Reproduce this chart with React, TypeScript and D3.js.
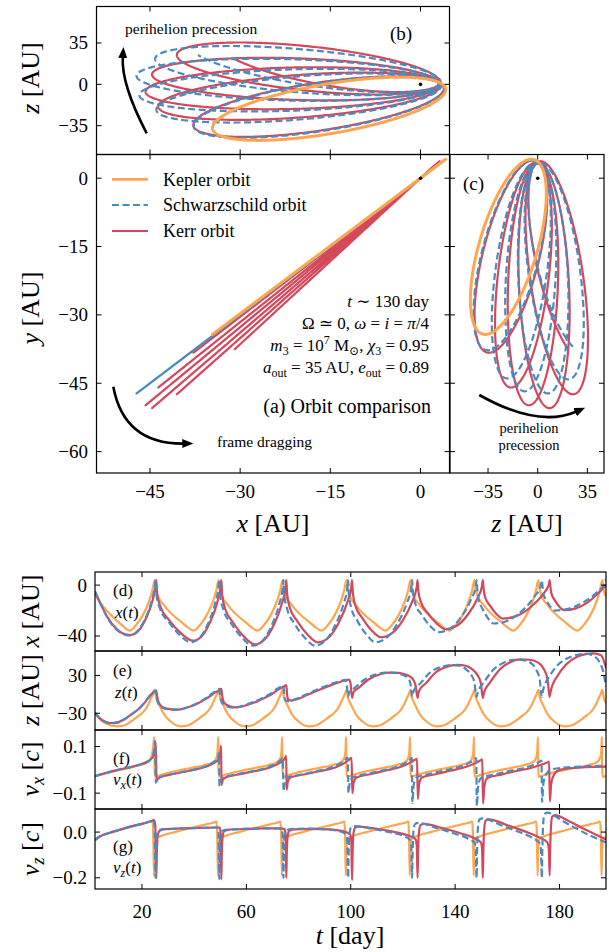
import React from 'react';
import * as d3 from 'd3';

type P2 = [number, number];
type P3 = [number, number, number];

const FONT = "'Liberation Serif', 'DejaVu Serif', serif";
const KEP = '#ffa54f';
const SCH = '#4a8bbe';
const KERR = '#d4485c';
const TWO_PI = 2 * Math.PI;

// ---------- orbit panels (a)-(c): apoapsis of every revolution (x, y, z in AU)
const periDist = 4.5;
const keplerApo: P3[] = [[-32.7, -32.4, -44.5]];
const keplerArc: P2[] = [[0, TWO_PI]];
const schApo: P3[] = [
  [-36.3, -36.3, -41.5],
  [-43.5, -43.5, -24.8],
  [-46.7, -46.7, -10.5],
  [-47.2, -47.2, 8.2],
  [-43.7, -43.7, 24.9],
  [-37.3, -37.3, 39.7],
];
const schArc: P2[] = [[0, TWO_PI], [0, TWO_PI], [0, TWO_PI], [0, TWO_PI], [0, TWO_PI], [0, 2.4]];
const kerrApo: P3[] = [
  [-36.4, -36.9, -40.6],
  [-43.3, -45.6, -21.6],
  [-45.7, -49.8, -7.1],
  [-44.6, -50.4, 9.5],
  [-40.0, -46.8, 28.7],
  [-32.6, -39.6, 41.5],
];
const kerrArc: P2[] = [[0, TWO_PI], [0, TWO_PI], [0, TWO_PI], [0, TWO_PI], [0, TWO_PI], [0, 2.2]];

const xTicksA = [-45, -30, -15, 0];
const yTicksA = [0, -15, -30, -45, -60];
const zTicksB = [35, 0, -35];
const zTicksC = [-35, 0, 35];

// ---------- time series (d)-(g): [t day, value]
const tTicks = [20, 60, 100, 140, 180];

const keplerX: P2[] = [
  [2, -6.3], [3.4, -12], [5.4, -17.5], [7.9, -23], [10.4, -28], [12.9, -32.5], [15.2, -35.8], [17.9, -31], [20.4, -23.4], [22.9, -11.6], [24, -4],
  [24.9, 4], [25.3, -3], [26.8, -11.6], [28.4, -15.5], [29.9, -19.5], [32.4, -24.5], [34.9, -28.7], [37.4, -33], [39.7, -35.8], [42.4, -31], [44.9, -23.4], [47.4, -11.6], [48.5, -4],
  [49.4, 4], [49.8, -3], [51.3, -11.6], [52.9, -15.5], [54.4, -19.5], [56.9, -24.5], [59.4, -28.7], [61.9, -33], [64.2, -35.8], [66.9, -31], [69.4, -23.4], [71.9, -11.6], [73, -4],
  [73.9, 4], [74.3, -3], [75.8, -11.6], [77.4, -15.5], [78.9, -19.5], [81.4, -24.5], [83.9, -28.7], [86.4, -33], [88.7, -35.8], [91.4, -31], [93.9, -23.4], [96.4, -11.6], [97.5, -4],
  [98.4, 4], [98.8, -3], [100.3, -11.6], [101.9, -15.5], [103.4, -19.5], [105.9, -24.5], [108.4, -28.7], [110.9, -33], [113.2, -35.8], [115.9, -31], [118.4, -23.4], [120.9, -11.6], [122, -4],
  [122.9, 4], [123.3, -3], [124.8, -11.6], [126.4, -15.5], [127.9, -19.5], [130.4, -24.5], [132.9, -28.7], [135.4, -33], [137.7, -35.8], [140.4, -31], [142.9, -23.4], [145.4, -11.6], [146.5, -4],
  [147.4, 4], [147.8, -3], [149.3, -11.6], [150.9, -15.5], [152.4, -19.5], [154.9, -24.5], [157.4, -28.7], [159.9, -33], [162.2, -35.8], [164.9, -31], [167.4, -23.4], [169.9, -11.6], [171, -4],
  [171.9, 4], [172.3, -3], [173.8, -11.6], [175.4, -15.5], [176.9, -19.5], [179.4, -24.5], [181.9, -28.7], [184.4, -33], [186.7, -35.8], [189.4, -31], [191.9, -23.4], [194.4, -11.6], [195.5, -4],
  [196.4, 4], [196.8, -3], [197.8, -9],
];
const kerrX: P2[] = [
  [2, -5], [4, -14], [7, -26], [10, -34], [12.5, -37.8], [15.5, -39.3], [18.5, -36.3], [21.5, -26.3], [24, -12.5], [25.2, -1.2],
  [25.5, 4], [25.8, -6.5], [27.2, -17.5], [30.4, -27.5], [35, -38], [39.5, -43.7], [42.8, -40.4], [46, -29.4], [48.8, -14.1], [50.1, -1.7],
  [50.4, 4], [50.7, -7.1], [51.9, -18.8], [54.9, -29.4], [59.1, -40.5], [63.2, -46.6], [66.8, -43.1], [70.5, -31.4], [73.5, -15.2], [75, -2.1],
  [75.3, 4], [75.6, -6.8], [76.7, -18], [79.5, -28.3], [83.5, -39.1], [87.3, -45], [91.3, -41.6], [95.2, -30.3], [98.5, -14.6], [100.2, -1.9],
  [100.5, 4], [100.8, -5.9], [101.8, -16.3], [104.4, -25.7], [108, -35.6], [111.5, -41], [115.7, -37.9], [120, -27.5], [123.5, -13.1], [125.3, -1.4],
  [125.6, 4], [125.9, -4.5], [126.9, -13.4], [129.3, -21.5], [132.9, -30.1], [136.3, -34.7], [140.6, -32], [144.9, -23.1], [148.5, -10.7], [150.3, -0.6],
  [150.6, 4], [150.9, -2.7], [151.5, -9.6], [153.3, -16], [155.8, -22.7], [158.2, -26.3], [163.6, -24.2], [169, -17.2], [173.5, -7.5], [175.9, 0.4],
  [176.2, 4], [176.5, -1.2], [176.9, -6.7], [178.1, -11.6], [179.9, -16.9], [181.7, -19.7], [186, -18.5], [190.5, -14], [194.5, -7], [197.8, 0],
];
const schX: P2[] = [
  [2, -5], [4, -14.2], [7, -26.5], [10, -34.5], [12.5, -38.2], [15.1, -39.6], [18.1, -36.5], [21.2, -26.5], [23.7, -12.6], [24.9, -1.2],
  [25.2, 4], [25.5, -6.8], [26.8, -18], [30, -28.3], [34.4, -39.1], [38.8, -45], [42, -41.6], [45.3, -30.3], [48, -14.6], [49.3, -1.9],
  [49.6, 4], [49.9, -7.4], [51.2, -19.2], [54.2, -30.1], [58.4, -41.4], [62.6, -47.6], [66.1, -44], [69.6, -32.1], [72.5, -15.6], [73.9, -2.2],
  [74.2, 4], [74.5, -7.4], [75.7, -19.2], [78.4, -30.1], [82.4, -41.4], [86.3, -47.6], [90.1, -44], [93.9, -32.1], [97.1, -15.6], [98.7, -2.2],
  [99, 4], [99.3, -6.8], [100.2, -18], [102.6, -28.3], [106.1, -39.1], [109.4, -45], [113.6, -41.6], [117.9, -30.3], [121.4, -14.6], [123.2, -1.9],
  [123.5, 4], [123.8, -5], [124.7, -14.5], [127.1, -23.1], [130.4, -32.1], [133.7, -37], [138.1, -34.1], [142.4, -24.7], [146, -11.6], [147.9, -0.9],
  [148.2, 4], [148.5, -3.5], [149, -11.4], [150.5, -18.6], [152.6, -26.1], [154.7, -30.2], [160.3, -27.8], [165.8, -19.9], [170.4, -9], [172.9, -0.1],
  [173.2, 4], [173.5, -1.3], [173.8, -6.8], [174.9, -11.8], [176.5, -17.1], [178, -20], [183.9, -18.3], [189.7, -12.8], [194.6, -5.1], [197.2, 1.1], [197.8, 4.5],
];

const keplerZ: P2[] = [
  [2, -29.5], [4, -40], [6.5, -47], [10.4, -50.8], [13.4, -49], [16.8, -40], [18.9, -33.5], [20.7, -27], [22.2, -18], [23.3, -8], [24.2, 0],
  [24.9, 7], [25.4, -4], [26.6, -16], [28.5, -32], [31.1, -43.5], [34.9, -50.8], [37.9, -49], [41.3, -40], [43.4, -33.5], [45.2, -27], [46.7, -18], [47.8, -8], [48.7, 0],
  [49.4, 7], [49.9, -4], [51.1, -16], [53, -32], [55.6, -43.5], [59.4, -50.8], [62.4, -49], [65.8, -40], [67.9, -33.5], [69.7, -27], [71.2, -18], [72.3, -8], [73.2, 0],
  [73.9, 7], [74.4, -4], [75.6, -16], [77.5, -32], [80.1, -43.5], [83.9, -50.8], [86.9, -49], [90.3, -40], [92.4, -33.5], [94.2, -27], [95.7, -18], [96.8, -8], [97.7, 0],
  [98.4, 7], [98.9, -4], [100.1, -16], [102, -32], [104.6, -43.5], [108.4, -50.8], [111.4, -49], [114.8, -40], [116.9, -33.5], [118.7, -27], [120.2, -18], [121.3, -8], [122.2, 0],
  [122.9, 7], [123.4, -4], [124.6, -16], [126.5, -32], [129.1, -43.5], [132.9, -50.8], [135.9, -49], [139.3, -40], [141.4, -33.5], [143.2, -27], [144.7, -18], [145.8, -8], [146.7, 0],
  [147.4, 7], [147.9, -4], [149.1, -16], [151, -32], [153.6, -43.5], [157.4, -50.8], [160.4, -49], [163.8, -40], [165.9, -33.5], [167.7, -27], [169.2, -18], [170.3, -8], [171.2, 0],
  [171.9, 7], [172.4, -4], [173.6, -16], [175.5, -32], [178.1, -43.5], [181.9, -50.8], [184.9, -49], [188.3, -40], [190.4, -33.5], [192.2, -27], [193.7, -18], [194.8, -8], [195.7, 0],
  [196.4, 7], [196.9, -4], [197.8, -14],
];
const kerrZ: P2[] = [
  [2, -29.5], [4, -38.5], [6, -43.5], [8, -45.5], [10.5, -44.5], [13, -40], [15.8, -32.2], [18.5, -24], [20.9, -13.6], [22.8, -4], [24.1, 2.4], [25.5, 6],
  [25.8, -3], [26.5, -13.6], [28, -20.5], [30.5, -23.5], [33.7, -24.2], [36.5, -22], [38.8, -18.9], [41.5, -14], [44, -8.3], [46, -3], [47.8, 2.4], [49.5, 6], [50.4, 8.7],
  [50.7, -1], [51.2, -11], [52.5, -17], [55.5, -20.5], [58, -19.5], [60.6, -16.3], [64, -11.5], [67, -5.6], [70, 1], [72.2, 7.7], [74.3, 12.5], [75.3, 14.6],
  [75.6, 0], [76, -8.3], [77.3, -9.8], [79.5, -7.5], [83.7, -0.3], [87.5, 6.5], [91.4, 13], [95, 18.5], [97.8, 22], [99.3, 23.6], [99.9, 18], [100.5, -5.6],
  [101, 3], [103, 10.3], [106.8, 23.6], [111.9, 32.7], [115, 34.5], [118.3, 34.3], [121, 31.5], [122.8, 28], [124, 23], [124.9, 13], [125.6, -5.6],
  [126, 3], [127, 11], [128.6, 17], [132.4, 34.3], [137.6, 44.9], [141, 47], [144, 45.5], [146.5, 40], [148.5, 31], [149.8, 19], [150.6, -5.6],
  [151, 2], [151.8, 10], [153.2, 18], [157, 39], [161.5, 52], [165, 55.5], [168.5, 55], [172, 50], [174, 40], [175.4, 24], [176.2, -4],
  [176.6, 5], [177.5, 17], [178.7, 26], [182.4, 47], [186.9, 60], [190, 64], [193, 65], [195.9, 62], [197.8, 42],
];
const schZ: P2[] = [
  [2, -29.5], [4, -38.5], [6, -43.8], [8, -46], [10.5, -45], [13, -40.5], [15.8, -32.5], [18.5, -24], [20.9, -13.6], [22.6, -4], [23.9, 2.4], [25.2, 6],
  [25.5, -3], [26.2, -14], [27.7, -21], [30.2, -24], [33.4, -24.5], [36.2, -22.3], [38.5, -19], [41.2, -14], [43.6, -8.3], [45.5, -3], [47.2, 2.4], [48.8, 6], [49.6, 8.7],
  [49.9, -1], [50.4, -11], [51.7, -17.5], [54.7, -21], [57.2, -20], [59.8, -16.5], [63.2, -11.5], [66.2, -5.6], [69.2, 1], [71.4, 7.7], [73.3, 12], [74.2, 13.5],
  [74.5, 0], [74.9, -9], [76.2, -11], [78.5, -8], [82.7, -0.5], [86.5, 6.5], [90.3, 13], [93.9, 18.5], [96.7, 22], [98, 23], [98.5, 15], [99, -4],
  [99.4, 3], [101.5, 10.3], [105.3, 23.6], [110.4, 32.7], [113.5, 34.5], [116.8, 34.3], [119.5, 31.5], [121.3, 28], [122.4, 23], [123, 14], [123.5, -4],
  [123.9, 3], [124.9, 11], [126.5, 17], [130.3, 34.3], [135.5, 44.5], [139, 46.5], [142, 45], [144.4, 39], [146.3, 30], [147.4, 19], [148.2, -4],
  [148.6, 2], [149.4, 10], [150.8, 18], [154.6, 39], [159, 51], [162.5, 55], [166, 54.5], [169.3, 49], [171.2, 38], [172.4, 24], [173.2, -4],
  [173.6, 5], [174.5, 17], [175.7, 26], [179.4, 47], [183.9, 59], [187, 63], [190, 64.6], [193, 61], [195.5, 50], [196.8, 35], [197.8, 12],
];

const keplerVx: P2[] = [
  [2, -0.027], [5, -0.018], [10, -0.004], [15, 0.008], [19, 0.02], [21.7, 0.03], [23.1, 0.042], [23.7, 0.06], [24.2, 0.09], [24.7, 0.14],
  [24.82, 0.02], [25, -0.03], [25.7, -0.028], [27.7, -0.02], [32.7, -0.006], [38.7, 0.008], [43.7, 0.02], [46.7, 0.03], [48.1, 0.042], [48.7, 0.058], [49, 0.085], [49.2, 0.14],
  [49.32, 0.02], [49.5, -0.03], [50.2, -0.028], [52.2, -0.02], [57.2, -0.006], [63.2, 0.008], [68.2, 0.02], [71.2, 0.03], [72.6, 0.042], [73.2, 0.058], [73.5, 0.085], [73.7, 0.14],
  [73.82, 0.02], [74, -0.03], [74.7, -0.028], [76.7, -0.02], [81.7, -0.006], [87.7, 0.008], [92.7, 0.02], [95.7, 0.03], [97.1, 0.042], [97.7, 0.058], [98, 0.085], [98.2, 0.14],
  [98.32, 0.02], [98.5, -0.03], [99.2, -0.028], [101.2, -0.02], [106.2, -0.006], [112.2, 0.008], [117.2, 0.02], [120.2, 0.03], [121.6, 0.042], [122.2, 0.058], [122.5, 0.085], [122.7, 0.14],
  [122.82, 0.02], [123, -0.03], [123.7, -0.028], [125.7, -0.02], [130.7, -0.006], [136.7, 0.008], [141.7, 0.02], [144.7, 0.03], [146.1, 0.042], [146.7, 0.058], [147, 0.085], [147.2, 0.14],
  [147.32, 0.02], [147.5, -0.03], [148.2, -0.028], [150.2, -0.02], [155.2, -0.006], [161.2, 0.008], [166.2, 0.02], [169.2, 0.03], [170.6, 0.042], [171.2, 0.058], [171.5, 0.085], [171.7, 0.14],
  [171.82, 0.02], [172, -0.03], [172.7, -0.028], [174.7, -0.02], [179.7, -0.006], [185.7, 0.008], [190.7, 0.02], [193.7, 0.03], [195.1, 0.042], [195.7, 0.058], [196, 0.085], [196.2, 0.14],
  [196.32, 0.02], [196.5, -0.03], [197.8, -0.027],
];
const kerrVx: P2[] = [
  [2, -0.027], [6, -0.014], [10, -0.002], [15, 0.01], [19, 0.022], [22.2, 0.036], [23.8, 0.05], [24.8, 0.07], [25.3, 0.117], [25.6, -0.05], [26, -0.04], [27, -0.032],
  [32, -0.018], [38, -0.004], [44, 0.012], [47.8, 0.031], [49.3, 0.045], [50, 0.07], [50.3, 0.103], [50.5, -0.065], [50.9, -0.045], [52, -0.033],
  [57, -0.02], [63, -0.006], [69, 0.01], [72.8, 0.03], [74.3, 0.042], [75, 0.055], [75.25, 0.06], [75.45, -0.085], [75.9, -0.05], [77, -0.032],
  [82, -0.02], [88, -0.006], [94, 0.01], [98, 0.032], [99.5, 0.045], [100.3, 0.052], [100.6, -0.1], [101.1, -0.055], [102.2, -0.033],
  [107, -0.02], [113, -0.004], [119, 0.012], [123, 0.032], [124.6, 0.043], [125.4, 0.047], [125.7, -0.125], [126.2, -0.06], [127.3, -0.033],
  [132, -0.02], [138, -0.004], [144, 0.012], [148, 0.03], [149.6, 0.04], [150.4, 0.045], [150.7, -0.145], [151.2, -0.07], [152.3, -0.035],
  [157, -0.022], [163, -0.006], [169, 0.008], [173, 0.022], [175, 0.03], [176, 0.035], [176.3, -0.135], [176.8, -0.06], [177.9, -0.02], [180, 0], [185, 0.008], [190, 0.012], [197.8, 0.014],
];
const schVx: P2[] = [
  [2, -0.027], [6, -0.014], [10, -0.002], [15, 0.01], [19, 0.022], [22.2, 0.036], [23.6, 0.05], [24.5, 0.075], [25, 0.124], [25.3, -0.055], [25.7, -0.04], [26.7, -0.032],
  [31.7, -0.018], [37.7, -0.004], [43.7, 0.012], [47.2, 0.031], [48.6, 0.045], [49.3, 0.06], [49.5, 0.074], [49.7, -0.07], [50.1, -0.045], [51.2, -0.033],
  [56, -0.02], [62, -0.006], [68, 0.01], [71.7, 0.03], [73.2, 0.042], [73.9, 0.05], [74.3, -0.092], [74.8, -0.05], [75.9, -0.032],
  [81, -0.02], [87, -0.005], [93, 0.012], [96.8, 0.033], [98.2, 0.046], [98.9, 0.052], [99.1, -0.1], [99.6, -0.055], [100.7, -0.033],
  [106, -0.018], [112, -0.003], [118, 0.014], [121.5, 0.034], [122.9, 0.046], [123.4, 0.052], [123.6, -0.142], [124.1, -0.065], [125.2, -0.033],
  [130, -0.018], [136, -0.002], [142, 0.014], [145.8, 0.032], [147.4, 0.043], [148.1, 0.05], [148.3, -0.156], [148.8, -0.07], [149.9, -0.035],
  [155, -0.02], [161, -0.004], [167, 0.01], [170.5, 0.024], [172.3, 0.034], [173.1, 0.04], [173.3, -0.138], [173.8, -0.06], [174.9, -0.018], [177, 0.002], [182, 0.01], [188, 0.014], [194, 0.017], [197.8, 0.018],
];

const keplerVz: P2[] = [
  [2, -0.035], [4, -0.018], [8, -0.002], [12, 0.012], [16, 0.025], [20, 0.036], [23, 0.044], [24, 0.047], [24.3, 0], [24.6, -0.19],
  [24.8, -0.08], [25.1, -0.04], [25.6, -0.026], [26.6, -0.02], [32.6, 0], [38.6, 0.018], [44.6, 0.034], [47.8, 0.043], [48.5, 0.047], [48.8, 0], [49.1, -0.19],
  [49.3, -0.08], [49.6, -0.04], [50.1, -0.026], [51.1, -0.02], [57.1, 0], [63.1, 0.018], [69.1, 0.034], [72.3, 0.043], [73, 0.047], [73.3, 0], [73.6, -0.19],
  [73.8, -0.08], [74.1, -0.04], [74.6, -0.026], [75.6, -0.02], [81.6, 0], [87.6, 0.018], [93.6, 0.034], [96.8, 0.043], [97.5, 0.047], [97.8, 0], [98.1, -0.19],
  [98.3, -0.08], [98.6, -0.04], [99.1, -0.026], [100.1, -0.02], [106.1, 0], [112.1, 0.018], [118.1, 0.034], [121.3, 0.043], [122, 0.047], [122.3, 0], [122.6, -0.19],
  [122.8, -0.08], [123.1, -0.04], [123.6, -0.026], [124.6, -0.02], [130.6, 0], [136.6, 0.018], [142.6, 0.034], [145.8, 0.043], [146.5, 0.047], [146.8, 0], [147.1, -0.19],
  [147.3, -0.08], [147.6, -0.04], [148.1, -0.026], [149.1, -0.02], [155.1, 0], [161.1, 0.018], [167.1, 0.034], [170.3, 0.043], [171, 0.047], [171.3, 0], [171.6, -0.19],
  [171.8, -0.08], [172.1, -0.04], [172.6, -0.026], [173.6, -0.02], [179.6, 0], [185.6, 0.018], [191.6, 0.034], [194.8, 0.043], [195.5, 0.047], [195.8, 0], [196.1, -0.19],
  [196.3, -0.08], [196.6, -0.04], [197.1, -0.026], [197.8, -0.023],
];
const kerrVz: P2[] = [
  [2, -0.035], [4, -0.018], [8, -0.002], [12, 0.012], [16, 0.025], [20, 0.036], [23, 0.046], [24.6, 0.052], [25.1, 0.03], [25.5, -0.2],
  [25.7, -0.09], [26, -0.02], [26.6, 0.004], [28, 0.012], [35, 0.016], [42, 0.018], [48, 0.02], [49.8, 0.02], [50.1, 0], [50.4, -0.207],
  [50.6, -0.09], [50.9, -0.02], [51.5, 0.004], [53, 0.01], [60, 0.014], [67, 0.016], [73, 0.016], [74.7, 0.012], [75, -0.01], [75.3, -0.2],
  [75.5, -0.09], [75.8, -0.02], [76.4, 0.005], [78, 0.012], [85, 0.014], [92, 0.012], [97, 0.004], [99.8, -0.01], [100.2, -0.04], [100.5, -0.21],
  [100.7, -0.09], [101, -0.01], [101.6, 0.018], [103, 0.024], [110, 0.014], [117, 0], [122, -0.015], [124.8, -0.03], [125.3, -0.06], [125.6, -0.2],
  [125.8, -0.09], [126.1, -0.005], [126.7, 0.03], [128, 0.036], [135, 0.018], [142, -0.005], [147, -0.025], [149.8, -0.044], [150.3, -0.07], [150.6, -0.2],
  [150.8, -0.09], [151.1, 0.01], [151.7, 0.05], [153, 0.056], [160, 0.03], [167, 0.002], [172, -0.022], [175.3, -0.045], [175.9, -0.075], [176.2, -0.19],
  [176.4, -0.08], [176.7, 0.02], [177.2, 0.068], [178.2, 0.074], [184, 0.045], [190, 0.01], [197.8, -0.032],
];
const schVz: P2[] = [
  [2, -0.035], [4, -0.018], [8, -0.002], [12, 0.012], [16, 0.025], [20, 0.036], [23, 0.046], [24.3, 0.052], [24.8, 0.03], [25.2, -0.2],
  [25.4, -0.09], [25.7, -0.02], [26.3, 0.004], [27.7, 0.012], [34.7, 0.016], [41.7, 0.018], [47.7, 0.02], [49, 0.02], [49.3, 0], [49.6, -0.205],
  [49.8, -0.09], [50.1, -0.02], [50.7, 0.004], [52.2, 0.01], [59.2, 0.014], [66.2, 0.016], [72.2, 0.016], [73.6, 0.012], [73.9, -0.01], [74.2, -0.2],
  [74.4, -0.09], [74.7, -0.02], [75.3, 0.006], [76.9, 0.013], [83.9, 0.015], [90.9, 0.012], [95.9, 0.003], [98.3, -0.012], [98.7, -0.045], [99, -0.2],
  [99.2, -0.09], [99.5, -0.01], [100.1, 0.02], [101.5, 0.026], [108.5, 0.014], [115.5, -0.002], [120.5, -0.018], [122.8, -0.035], [123.2, -0.065], [123.5, -0.2],
  [123.7, -0.09], [124, 0], [124.6, 0.035], [125.9, 0.04], [132.9, 0.018], [139.9, -0.007], [144.9, -0.028], [147.5, -0.048], [147.9, -0.075], [148.2, -0.2],
  [148.4, -0.09], [148.7, 0.015], [149.3, 0.055], [150.6, 0.06], [157.6, 0.03], [164.6, 0], [169.6, -0.025], [172.5, -0.05], [172.9, -0.08], [173.2, -0.2],
  [173.4, -0.08], [173.7, 0.03], [174.2, 0.078], [175.2, 0.085], [181, 0.05], [187, 0.012], [193, -0.022], [197.8, -0.045],
];

// ---------- helpers
const minus = (s: string) => s.replace('-', '\u2212');

// one revolution: ellipse with the focus at the origin, through the given apoapsis
function orbitPoints(apos: P3[], arcs: P2[]): P3[] {
  const pts: P3[] = [];
  apos.forEach((a, i) => {
    const h = Math.hypot(a[0], a[1]);
    const qx = -a[0] / h;
    const qy = -a[1] / h;
    const sA = -h;
    const zA = a[2];
    const ra = Math.hypot(sA, zA);
    const ux = sA / ra;
    const uz = zA / ra;
    const pS = -ux * periDist;
    const pZ = -uz * periDist;
    const cS = (sA + pS) / 2;
    const cZ = (zA + pZ) / 2;
    const uS = (pS - sA) / 2;
    const uZ = (pZ - zA) / 2;
    const b = Math.sqrt(periDist * ra);
    const vS = -uz * b;
    const vZ = ux * b;
    const [e0, e1] = arcs[i];
    const n = Math.ceil((e1 - e0) / 0.015);
    for (let k = 0; k <= n; k++) {
      const E = e0 + ((e1 - e0) * k) / n;
      const s = cS + uS * Math.cos(E) + vS * Math.sin(E);
      const z = cZ + uZ * Math.cos(E) + vZ * Math.sin(E);
      pts.push([s * qx, s * qy, z]);
    }
  });
  return pts;
}

function frame(key: string, x0: number, x1: number, y0: number, y1: number, xs: number[], ys: number[]) {
  const L = 5;
  return (
    <g key={key} stroke="#000" fill="none">
      {xs.map((x, i) => (
        <g key={'x' + i}>
          <line x1={x} x2={x} y1={y1} y2={y1 - L} strokeWidth={1} />
          <line x1={x} x2={x} y1={y0} y2={y0 + L} strokeWidth={1} />
        </g>
      ))}
      {ys.map((y, i) => (
        <g key={'y' + i}>
          <line x1={x0} x2={x0 + L} y1={y} y2={y} strokeWidth={1} />
          <line x1={x1} x2={x1 - L} y1={y} y2={y} strokeWidth={1} />
        </g>
      ))}
      <rect x={x0} y={y0} width={x1 - x0} height={y1 - y0} strokeWidth={1.2} />
    </g>
  );
}

const I = ({ children }: { children: React.ReactNode }) => <tspan fontStyle="italic">{children}</tspan>;

export default function App() {
  const xA = d3.scaleLinear().domain([-53.9, 4.83]).range([96.5, 449.5]);
  const yA = d3.scaleLinear().domain([-64.7, 5.2]).range([473, 154.5]);
  const zB = d3.scaleLinear().domain([-59.4, 65.9]).range([154.5, 6.5]);
  const zC = d3.scaleLinear().domain([-61.8, 46.7]).range([450, 604]);
  const tS = d3.scaleLinear().domain([2.0, 197.8]).range([95, 606]);

  const kepPts = orbitPoints(keplerApo, keplerArc);
  const schPts = orbitPoints(schApo, schArc);
  const kerrPts = orbitPoints(kerrApo, kerrArc);

  const lineXZ = d3.line<P3>().x((p) => xA(p[0])).y((p) => zB(p[2]));
  const lineXY = d3.line<P3>().x((p) => xA(p[0])).y((p) => yA(p[1]));
  const lineZY = d3.line<P3>().x((p) => zC(p[2])).y((p) => yA(p[1]));

  const orbitLayer = (gen: d3.Line<P3>, clip: string) => (
    <g clipPath={`url(#${clip})`} fill="none" strokeLinejoin="round">
      <path d={gen(kerrPts) ?? ''} stroke={KERR} strokeWidth={2.2} />
      <path d={gen(schPts) ?? ''} stroke={SCH} strokeWidth={2.2} strokeDasharray="7,3.5" />
      <path d={gen(kepPts) ?? ''} stroke={KEP} strokeWidth={3} />
    </g>
  );

  const series = [
    { key: 'd', y0: 572, y1: 651, dom: [-51.8, 10.3], kep: keplerX, sch: schX, kerr: kerrX, ticks: [0, -40], labels: ['0', '-40'] },
    { key: 'e', y0: 651, y1: 730, dom: [-56.6, 68.9], kep: keplerZ, sch: schZ, kerr: kerrZ, ticks: [30, -30], labels: ['30', '-30'] },
    { key: 'f', y0: 730, y1: 809, dom: [-0.168, 0.171], kep: keplerVx, sch: schVx, kerr: kerrVx, ticks: [0.1, -0.1], labels: ['0.1', '-0.1'] },
    { key: 'g', y0: 809, y1: 889, dom: [-0.249, 0.101], kep: keplerVz, sch: schVz, kerr: kerrVz, ticks: [0, -0.2], labels: ['0.0', '-0.2'] },
  ];

  const arrowHead = 'url(#ah)';
  const TICK = 19;

  return (
    <div style={{ position: 'absolute', left: 0, top: 0 }}>
      <svg width={609} height={952} viewBox="0 0 609 952" style={{ display: 'block', background: '#fff' }} fontFamily={FONT}>
        <defs>
          <clipPath id="cb"><rect x={96.5} y={6.5} width={353} height={148} /></clipPath>
          <clipPath id="ca"><rect x={96.5} y={154.5} width={353} height={318.5} /></clipPath>
          <clipPath id="cc"><rect x={450} y={154.5} width={154} height={318.5} /></clipPath>
          {series.map((s) => (
            <clipPath key={s.key} id={'c' + s.key}><rect x={95} y={s.y0} width={511} height={s.y1 - s.y0} /></clipPath>
          ))}
          <marker id="ah" markerWidth={12} markerHeight={10} refX={1} refY={4.5} orient="auto" markerUnits="userSpaceOnUse">
            <path d="M0,0 L11,4.5 L0,9 Z" fill="#000" />
          </marker>
        </defs>

        {/* panel (b): x-z */}
        {orbitLayer(lineXZ, 'cb')}
        <circle cx={xA(0)} cy={zB(0)} r={1.8} fill="#000" />
        {frame('fb', 96.5, 449.5, 6.5, 154.5, xTicksA.map((v) => xA(v)), zTicksB.map((v) => zB(v)))}
        {zTicksB.map((v) => (
          <text key={'zb' + v} x={88} y={zB(v) + 6.5} textAnchor="end" fontSize={TICK}>{minus(String(v))}</text>
        ))}
        <text transform={`translate(39,78) rotate(-90)`} textAnchor="middle" fontSize={26}>
          <I>z</I>{' [AU]'}
        </text>
        <text x={125} y={34} fontSize={15.5}>perihelion precession</text>
        <text x={390} y={40} fontSize={19}>(b)</text>
        <path d="M146.7,133.3 Q121,84 122.8,57" fill="none" stroke="#000" strokeWidth={2.6} markerEnd={arrowHead} />

        {/* panel (a): x-y */}
        {orbitLayer(lineXY, 'ca')}
        <circle cx={xA(0)} cy={yA(0)} r={1.8} fill="#000" />
        {frame('fa', 96.5, 449.5, 154.5, 473, xTicksA.map((v) => xA(v)), yTicksA.map((v) => yA(v)))}
        {xTicksA.map((v) => (
          <text key={'xa' + v} x={xA(v)} y={498} textAnchor="middle" fontSize={TICK}>{minus(String(v))}</text>
        ))}
        {yTicksA.map((v) => (
          <text key={'ya' + v} x={88} y={yA(v) + 6.5} textAnchor="end" fontSize={TICK}>{minus(String(v))}</text>
        ))}
        <text transform={`translate(39,308) rotate(-90)`} textAnchor="middle" fontSize={26}>
          <I>y</I>{' [AU]'}
        </text>
        <text x={273} y={532} textAnchor="middle" fontSize={26}>
          <I>x</I>{' [AU]'}
        </text>
        {/* legend */}
        <line x1={112} x2={148} y1={179.3} y2={179.3} stroke={KEP} strokeWidth={2.8} />
        <line x1={112} x2={148} y1={205} y2={205} stroke={SCH} strokeWidth={2.2} strokeDasharray="7,3.5" />
        <line x1={112} x2={148} y1={231} y2={231} stroke={KERR} strokeWidth={2.2} />
        <text x={163} y={185.5} fontSize={18}>Kepler orbit</text>
        <text x={163} y={211} fontSize={18}>Schwarzschild orbit</text>
        <text x={163} y={237} fontSize={18}>Kerr orbit</text>
        {/* annotations */}
        <text x={429} y={307} textAnchor="end" fontSize={17}>
          <I>t</I>{' \u223C 130 day'}
        </text>
        <text x={429} y={329} textAnchor="end" fontSize={17}>
          {'\u03A9 \u2243 0,  '}<I>{'\u03C9'}</I>{' = '}<I>i</I>{' = '}<I>{'\u03C0'}</I>{'/4'}
        </text>
        <text x={429} y={351} textAnchor="end" fontSize={17}>
          <I>m</I><tspan fontSize={12} dy={4}>3</tspan><tspan dy={-4}>{' = 10'}</tspan><tspan fontSize={12} dy={-7}>7</tspan>
          <tspan dy={7}>{' M'}</tspan><tspan fontSize={12} dy={4}>{'\u2299'}</tspan><tspan dy={-4}>{',  '}</tspan>
          <I>{'\u03C7'}</I><tspan fontSize={12} dy={4}>3</tspan><tspan dy={-4}>{' = 0.95'}</tspan>
        </text>
        <text x={429} y={373} textAnchor="end" fontSize={17}>
          <I>a</I><tspan fontSize={12} dy={4}>out</tspan><tspan dy={-4}>{' = 35 AU,  '}</tspan>
          <I>e</I><tspan fontSize={12} dy={4}>out</tspan><tspan dy={-4}>{' = 0.89'}</tspan>
        </text>
        <text x={431} y={413} textAnchor="end" fontSize={20}>(a) Orbit comparison</text>
        <text x={217} y={447} fontSize={15.5}>frame dragging</text>
        <path d="M113.3,386.7 Q124,444 183.3,443.6" fill="none" stroke="#000" strokeWidth={2.6} markerEnd={arrowHead} />

        {/* panel (c): z-y */}
        {orbitLayer(lineZY, 'cc')}
        <circle cx={zC(0)} cy={yA(0)} r={1.8} fill="#000" />
        {frame('fc', 450, 604, 154.5, 473, zTicksC.map((v) => zC(v)), yTicksA.map((v) => yA(v)))}
        {zTicksC.map((v) => (
          <text key={'zc' + v} x={zC(v)} y={498} textAnchor="middle" fontSize={TICK}>{minus(String(v))}</text>
        ))}
        <text x={527} y={532} textAnchor="middle" fontSize={26}>
          <I>z</I>{' [AU]'}
        </text>
        <text x={463} y={190} fontSize={19}>(c)</text>
        <text x={529} y={433} textAnchor="middle" fontSize={14.5}>perihelion</text>
        <text x={529} y={450} textAnchor="middle" fontSize={14.5}>precession</text>
        <path d="M479.3,395 Q538,428 576,411.7" fill="none" stroke="#000" strokeWidth={2.6} markerEnd={arrowHead} />

        {/* time series (d)-(g) */}
        {series.map((s) => {
          const y = d3.scaleLinear().domain(s.dom).range([s.y1, s.y0]);
          const gen = d3.line<P2>().x((d) => tS(d[0])).y((d) => y(d[1])).curve(d3.curveMonotoneX);
          return (
            <g key={s.key}>
              <g clipPath={`url(#c${s.key})`} fill="none" strokeLinejoin="round">
                <path d={gen(s.kep) ?? ''} stroke={KEP} strokeWidth={2.2} />
                <path d={gen(s.kerr) ?? ''} stroke={KERR} strokeWidth={2.2} />
                <path d={gen(s.sch) ?? ''} stroke={SCH} strokeWidth={2.2} strokeDasharray="7,3.5" />
              </g>
              {frame('f' + s.key, 95, 606, s.y0, s.y1, tTicks.map((t) => tS(t)), s.ticks.map((v) => y(v)))}
              {s.ticks.map((v, i) => (
                <text key={'yl' + i} x={87} y={y(v) + 6.5} textAnchor="end" fontSize={TICK}>{minus(s.labels[i])}</text>
              ))}
            </g>
          );
        })}
        {tTicks.map((t) => (
          <text key={'t' + t} x={tS(t)} y={918} textAnchor="middle" fontSize={TICK}>{t}</text>
        ))}
        <text x={350} y={944} textAnchor="middle" fontSize={26}>
          <I>t</I>{' [day]'}
        </text>
        <text transform="translate(39,611) rotate(-90)" textAnchor="middle" fontSize={26}>
          <I>x</I>{' [AU]'}
        </text>
        <text transform="translate(39,690) rotate(-90)" textAnchor="middle" fontSize={26}>
          <I>z</I>{' [AU]'}
        </text>
        <text transform="translate(39,769) rotate(-90)" textAnchor="middle" fontSize={26}>
          <I>v</I><tspan fontStyle="italic" fontSize={18} dy={5}>x</tspan><tspan dy={-5}>{'  ['}</tspan><I>c</I>{']'}
        </text>
        <text transform="translate(39,849) rotate(-90)" textAnchor="middle" fontSize={26}>
          <I>v</I><tspan fontStyle="italic" fontSize={18} dy={5}>z</tspan><tspan dy={-5}>{'  ['}</tspan><I>c</I>{']'}
        </text>
        {/* panel tags */}
        <text x={113} y={596} fontSize={17}>(d)</text>
        <text x={115} y={618} fontSize={17}><I>x</I>(<I>t</I>)</text>
        <text x={113} y={676} fontSize={17}>(e)</text>
        <text x={115} y={698} fontSize={17}><I>z</I>(<I>t</I>)</text>
        <text x={113} y={764} fontSize={17}>(f)</text>
        <text x={113} y={785} fontSize={17}><I>v</I><tspan fontStyle="italic" fontSize={12} dy={4}>x</tspan><tspan dy={-4}>(</tspan><I>t</I>)</text>
        <text x={113} y={852} fontSize={17}>(g)</text>
        <text x={113} y={873} fontSize={17}><I>v</I><tspan fontStyle="italic" fontSize={12} dy={4}>z</tspan><tspan dy={-4}>(</tspan><I>t</I>)</text>
      </svg>
    </div>
  );
}
